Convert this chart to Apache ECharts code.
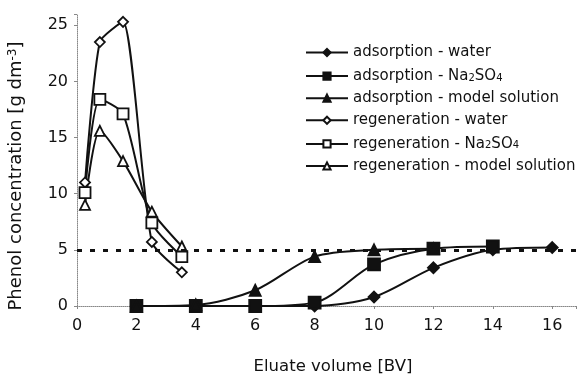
<!DOCTYPE html>
<html>
<head>
<meta charset="utf-8">
<script src="https://cdn.jsdelivr.net/npm/echarts@6/dist/echarts.min.js"></script>
<style>html,body{margin:0;padding:0;background:#fff}#c{width:579px;height:379px}</style>
</head>
<body>
<div id="c"></div>
<script>
// Adsorption (breakthrough) data
var adsWaterX = [2, 4, 6, 8, 10, 12, 14, 16];
var adsWaterY = [0, 0, 0, 0, 0.8, 3.4, 5.0, 5.2];
var adsNaX = [2, 4, 6, 8, 10, 12, 14];
var adsNaY = [0, 0, 0, 0.3, 3.7, 5.1, 5.3];
var adsModelX = [2, 4, 6, 8, 10, 12];
var adsModelY = [0, 0.1, 1.4, 4.4, 5.0, 5.1];
// Regeneration data
var regX = [0.27, 0.77, 1.55, 2.52, 3.53];
var regWaterY = [11.0, 23.5, 25.3, 5.7, 3.0];
var regNaY = [10.1, 18.4, 17.1, 7.4, 4.4];
var regModelY = [9.0, 15.6, 12.9, 8.4, 5.3];
var limitY = 5;
var xTicks = [0, 2, 4, 6, 8, 10, 12, 14, 16];
var yTicks = [0, 5, 10, 15, 20, 25];
var seriesNames = ['adsorption - water', 'adsorption - Na2SO4', 'adsorption - model solution',
  'regeneration - water', 'regeneration - Na2SO4', 'regeneration - model solution'];
var xTitle = 'Eluate volume [BV]';
var yTitle = 'Phenol concentration [g dm{sup|-3}]';

function pairs(xs, ys) { return xs.map(function (x, i) { return [x, ys[i]]; }); }

var FONT = 'DejaVu Sans';
var INK = '#111';
function mk(name, xs, ys, symbol, size, filled, sm) {
  return {
    name: name, type: 'line', data: pairs(xs, ys), smooth: sm,
    symbol: symbol, symbolSize: size, showAllSymbol: true,
    lineStyle: { color: INK, width: 2 },
    itemStyle: { color: filled ? INK : '#fff', borderColor: INK, borderWidth: 1.8 },
    emphasis: { disabled: true }, z: 3
  };
}
var series = [
  mk(seriesNames[0], adsWaterX, adsWaterY, 'diamond', 11, true, 0.3),
  mk(seriesNames[1], adsNaX, adsNaY, 'rect', 12, true, 0.3),
  mk(seriesNames[2], adsModelX, adsModelY, 'triangle', 11, true, 0.3),
  mk(seriesNames[3], regX, regWaterY, 'diamond', 10, false, 0.2),
  mk(seriesNames[4], regX, regNaY, 'rect', 11, false, 0.25),
  mk(seriesNames[5], regX, regModelY, 'triangle', 10, false, 0.25)
];
series[0].markLine = {
  silent: true, symbol: ['none', 'none'], label: { show: false },
  lineStyle: { color: INK, type: [5, 8], width: 3 },
  data: [{ yAxis: limitY }]
};

var chart = echarts.init(document.getElementById('c'), null, { renderer: 'canvas' });
chart.setOption({
  backgroundColor: '#fff',
  animation: false,
  grid: { left: 77, top: 14, right: 2, bottom: 73 },
  xAxis: {
    type: 'value', min: 0, max: 16.8, interval: 2,
    splitLine: { show: false },
    axisLine: { lineStyle: { color: '#888', width: 1, type: 'dotted' } },
    axisTick: { length: 3, lineStyle: { color: '#888' } },
    axisLabel: {
      color: INK, fontFamily: FONT, fontSize: 16, margin: 12,
      formatter: function (v) { return xTicks.indexOf(v) >= 0 ? String(v) : ''; }
    }
  },
  yAxis: {
    type: 'value', min: 0, max: 26, interval: 5,
    splitLine: { show: false },
    axisLine: { show: true, lineStyle: { color: '#888', width: 1, type: 'dotted' } },
    axisTick: { show: true, length: 3, lineStyle: { color: '#888' } },
    axisLabel: {
      color: INK, fontFamily: FONT, fontSize: 16, margin: 9,
      formatter: function (v) { return yTicks.indexOf(v) >= 0 ? String(v) : ''; }
    }
  },
  legend: {
    orient: 'vertical', left: 305, top: 45, padding: 0,
    itemWidth: 42, itemHeight: 9, itemGap: 7.1,
    data: seriesNames,
    formatter: function (n) { return n.replace('Na2SO4', 'Na{sub|2}SO{sub|4}'); },
    textStyle: {
      color: INK, fontFamily: FONT, fontSize: 15, lineHeight: 14,
      rich: { sub: { fontFamily: FONT, fontSize: 10, verticalAlign: 'bottom', lineHeight: 14, padding: [6, 0, 0, 0] } }
    }
  },
  graphic: [
    {
      type: 'text', x: 16, y: 176, rotation: Math.PI / 2,
      style: {
        text: yTitle, textAlign: 'center', textVerticalAlign: 'middle',
        font: '18px "DejaVu Sans"', fill: INK,
        rich: { sup: { fontFamily: FONT, fontSize: 12, verticalAlign: 'top', padding: [0, 0, 7, 0] } }
      }
    },
    {
      type: 'text', x: 333, y: 367,
      style: { text: xTitle, textAlign: 'center', textVerticalAlign: 'middle', font: '16.5px "DejaVu Sans"', fill: INK }
    }
  ],
  series: series
});
</script>
</body>
</html>
